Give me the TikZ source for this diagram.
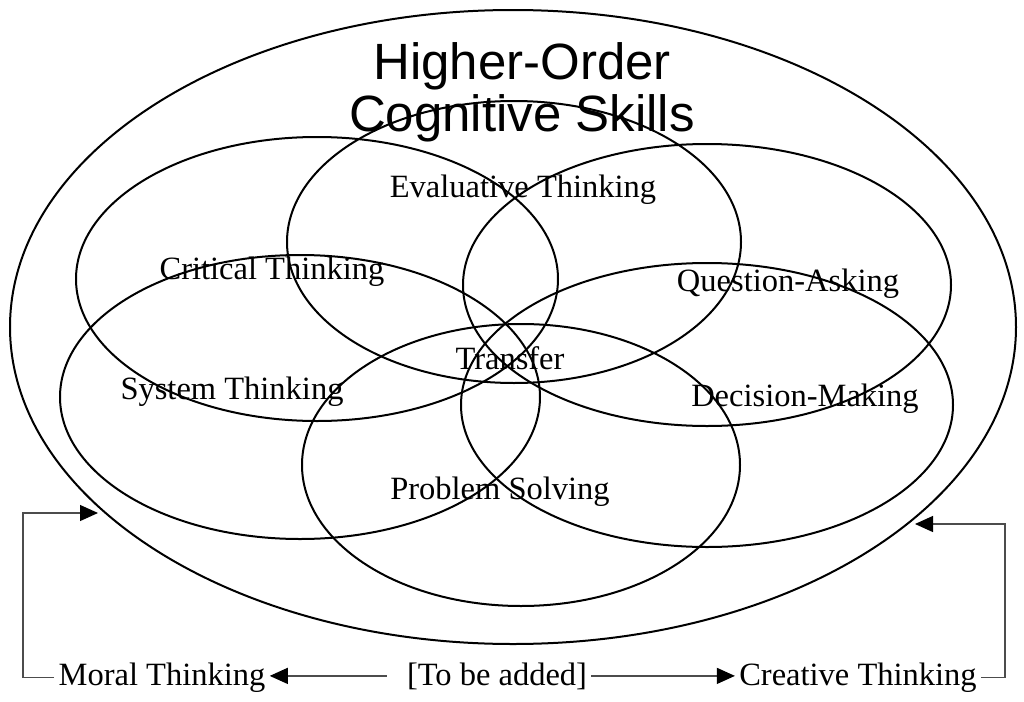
\documentclass[tikz,border=0pt]{standalone}
\usepackage{fontspec}
\setmainfont{Liberation Serif}
\newfontfamily\titlefont{Liberation Sans}
\usetikzlibrary{arrows.meta,shapes.geometric}
\begin{document}
\begin{tikzpicture}[x=0.5pt,y=-0.5pt,
  skill/.style={draw,ellipse,line width=1pt,inner sep=0pt},
  lbl/.style={font=\fontsize{16.25}{18}\selectfont,inner sep=2pt},
  link/.style={draw=black!70,line width=0.6pt},
  >={Triangle[length=9pt,width=8pt,black]}]
\useasboundingbox (0,0) rectangle (1024,702);
% outer set and the six overlapping skills
\node[skill,minimum width=503pt,minimum height=317pt] (hocs) at (513,327) {};
\foreach \name/\cx/\cy/\rx/\ry in {critical/317/279/241/142,evaluative/514/242/227/141,
  question/707/285/244/141,system/300/397/240/142,decision/707/405/246/142,problem/521/465/219/141}
  \node[skill,minimum width=\rx pt,minimum height=\ry pt] (\name) at (\cx,\cy) {};
\node[font=\titlefont\fontsize{25.5}{26}\selectfont,align=center] (title) at (522,92) {Higher-Order\\Cognitive Skills};
\node[lbl] (evallbl) at (523,190) {Evaluative Thinking};
\node[lbl] (critlbl) at (272,272) {Critical Thinking};
\node[lbl] (queslbl) at (788,284) {Question-Asking};
\node[lbl] (translbl) at (510,358) {Transfer};
\node[lbl] (syslbl) at (232,392) {System Thinking};
\node[lbl] (declbl) at (805,399) {Decision-Making};
\node[lbl] (problbl) at (500,492) {Problem Solving};
% skills still outside the set
\node[lbl,anchor=base] (moral) at (162,685) {Moral Thinking};
\node[lbl,anchor=base] (added) at (497,685) {[To be added]};
\node[lbl,anchor=base] (creative) at (858,685) {Creative Thinking};
\coordinate (moralbend) at (23,513);
\coordinate (moralin) at (98,513);
\coordinate (creativebend) at (1005,524);
\coordinate (creativein) at (915,524);
\draw[link,->,shorten <=8pt] (added.west) -- (moral.east |- added.west);
\draw[link,->] (added.east) -- (creative.west |- added.east);
\draw[link,->] (moral.west) -| (moralbend) -- (moralin);
\draw[link,->] (creative.east) -| (creativebend) -- (creativein);
\end{tikzpicture}
\end{document}
